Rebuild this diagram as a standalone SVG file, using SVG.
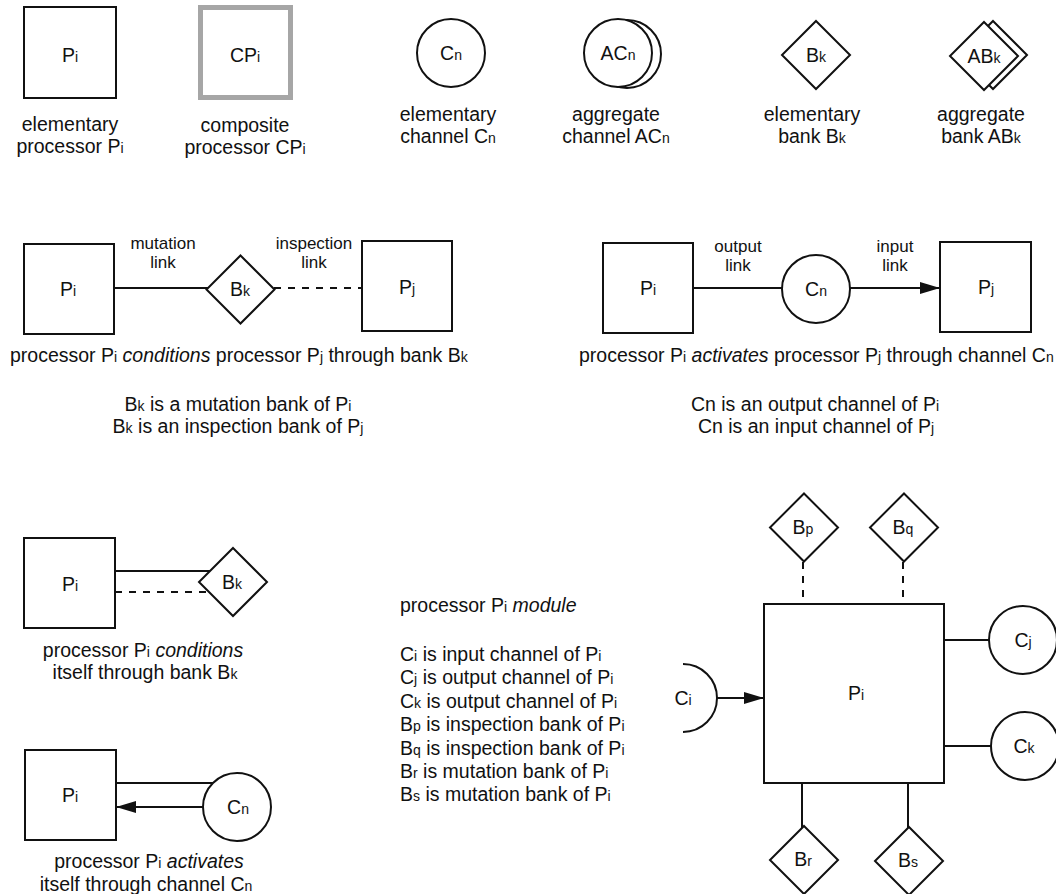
<svg xmlns="http://www.w3.org/2000/svg" width="1056" height="894" viewBox="0 0 1056 894">
  <style>
    text { font-family: "Liberation Sans", Arial, sans-serif; fill: #111; }
    .cap { font-size: 19.5px; text-anchor: middle; }
    .capL { font-size: 19.5px; }
    .lnk { font-size: 17px; text-anchor: middle; }
    .lbl { font-size: 19.5px; text-anchor: middle; }
    .s { font-size: 72%; }
    .it { font-style: italic; }
    .box { fill: #fff; stroke: #111; stroke-width: 2; }
    .comp { fill: #fff; stroke: #a6a6a6; stroke-width: 5; }
    .line { fill: none; stroke: #111; stroke-width: 2; }
    .dash { fill: none; stroke: #111; stroke-width: 2; stroke-dasharray: 7 7; }
  </style>
  <defs>
    <marker id="arrow" markerUnits="userSpaceOnUse" markerWidth="20" markerHeight="12" refX="20" refY="6" orient="auto">
      <path d="M0,0 L20,6 L0,12 z" fill="#111"/>
    </marker>
  </defs>

  <!-- connectors -->
  <g id="connectors">
    <!-- conditions: Pi -> Bk -> Pj -->
    <line class="line" x1="114" y1="288" x2="240" y2="288"/>
    <line class="dash" x1="274" y1="288" x2="362" y2="288"/>
    <!-- activates: Pi -> Cn -> Pj -->
    <line class="line" x1="693" y1="288" x2="816" y2="288"/>
    <line class="line" x1="850" y1="288" x2="940" y2="288" marker-end="url(#arrow)"/>
    <!-- self conditioning -->
    <line class="line" x1="115" y1="571" x2="233" y2="571"/>
    <line class="dash" x1="115" y1="592" x2="209" y2="592"/>
    <!-- self activation -->
    <line class="line" x1="116" y1="783" x2="237" y2="783"/>
    <line class="line" x1="203" y1="807" x2="116" y2="807" marker-end="url(#arrow)"/>
    <!-- module -->
    <line class="dash" x1="803" y1="562" x2="803" y2="604"/>
    <line class="dash" x1="903" y1="562" x2="903" y2="604"/>
    <line class="line" x1="944" y1="640" x2="1023" y2="640"/>
    <line class="line" x1="944" y1="746" x2="1025" y2="746"/>
    <line class="line" x1="717" y1="698" x2="764" y2="698" marker-end="url(#arrow)"/>
    <line class="line" x1="802" y1="783" x2="802" y2="860"/>
    <line class="line" x1="908" y1="783" x2="908" y2="861"/>
  </g>

  <!-- legend row -->
  <g id="legend-processor">
    <rect class="box" x="24" y="7" width="92" height="91"/>
    <text class="lbl" x="70" y="62">P<tspan class="s">i</tspan></text>
    <text class="cap" x="70" y="131">elementary</text>
    <text class="cap" x="70" y="153">processor P<tspan class="s">i</tspan></text>
  </g>
  <g id="legend-composite">
    <rect class="comp" x="200.5" y="7.5" width="90" height="90"/>
    <text class="lbl" x="245" y="62">CP<tspan class="s">i</tspan></text>
    <text class="cap" x="245" y="132">composite</text>
    <text class="cap" x="245" y="154">processor CP<tspan class="s">i</tspan></text>
  </g>
  <g id="legend-channel">
    <circle class="box" cx="451" cy="53" r="34"/>
    <text class="lbl" x="451" y="60">C<tspan class="s">n</tspan></text>
    <text class="cap" x="448" y="121">elementary</text>
    <text class="cap" x="448" y="143">channel C<tspan class="s">n</tspan></text>
  </g>
  <g id="legend-aggregate-channel">
    <circle class="box" cx="627" cy="54" r="34"/>
    <circle class="box" cx="618" cy="53" r="34"/>
    <text class="lbl" x="618" y="60">AC<tspan class="s">n</tspan></text>
    <text class="cap" x="616" y="121">aggregate</text>
    <text class="cap" x="616" y="143">channel AC<tspan class="s">n</tspan></text>
  </g>
  <g id="legend-bank">
    <polygon class="box" points="816,21 850,55 816,89 782,55"/>
    <text class="lbl" x="816" y="62">B<tspan class="s">k</tspan></text>
    <text class="cap" x="812" y="121">elementary</text>
    <text class="cap" x="812" y="143">bank B<tspan class="s">k</tspan></text>
  </g>
  <g id="legend-aggregate-bank">
    <polygon class="box" points="993,21 1027,55 993,89 959,55"/>
    <polygon class="box" points="984,22 1018,56 984,90 950,56"/>
    <text class="lbl" x="984" y="63">AB<tspan class="s">k</tspan></text>
    <text class="cap" x="981" y="121">aggregate</text>
    <text class="cap" x="981" y="143">bank AB<tspan class="s">k</tspan></text>
  </g>

  <!-- processor conditions processor -->
  <g id="cond-pi">
    <rect class="box" x="24" y="244" width="90" height="90"/>
    <text class="lbl" x="68" y="296">P<tspan class="s">i</tspan></text>
  </g>
  <g id="cond-bk">
    <polygon class="box" points="240.5,255.5 274.5,289.5 240.5,323.5 206.5,289.5"/>
    <text class="lbl" x="240" y="296">B<tspan class="s">k</tspan></text>
  </g>
  <g id="cond-pj">
    <rect class="box" x="362" y="241" width="90" height="90"/>
    <text class="lbl" x="407" y="294">P<tspan class="s">j</tspan></text>
  </g>
  <g id="cond-text">
    <text class="lnk" x="163" y="249">mutation</text>
    <text class="lnk" x="163" y="268">link</text>
    <text class="lnk" x="314" y="249">inspection</text>
    <text class="lnk" x="314" y="268">link</text>
    <text class="capL" x="10" y="362">processor P<tspan class="s">i</tspan> <tspan class="it">conditions</tspan> processor P<tspan class="s">j</tspan> through bank B<tspan class="s">k</tspan></text>
    <text class="cap" x="238" y="411">B<tspan class="s">k</tspan> is a mutation bank of P<tspan class="s">i</tspan></text>
    <text class="cap" x="238" y="433">B<tspan class="s">k</tspan> is an inspection bank of P<tspan class="s">j</tspan></text>
  </g>

  <!-- processor activates processor -->
  <g id="act-pi">
    <rect class="box" x="603" y="243" width="90" height="90"/>
    <text class="lbl" x="648" y="295">P<tspan class="s">i</tspan></text>
  </g>
  <g id="act-cn">
    <circle class="box" cx="816" cy="289" r="34"/>
    <text class="lbl" x="816" y="296">C<tspan class="s">n</tspan></text>
  </g>
  <g id="act-pj">
    <rect class="box" x="940" y="242" width="91" height="90"/>
    <text class="lbl" x="986" y="294">P<tspan class="s">j</tspan></text>
  </g>
  <g id="act-text">
    <text class="lnk" x="738" y="252">output</text>
    <text class="lnk" x="738" y="271">link</text>
    <text class="lnk" x="895" y="252">input</text>
    <text class="lnk" x="895" y="271">link</text>
    <text class="capL" x="579" y="362">processor P<tspan class="s">i</tspan> <tspan class="it">activates</tspan> processor P<tspan class="s">j</tspan> through channel C<tspan class="s">n</tspan></text>
    <text class="cap" x="815" y="411">Cn is an output channel of P<tspan class="s">i</tspan></text>
    <text class="cap" x="816" y="433">Cn is an input channel of P<tspan class="s">j</tspan></text>
  </g>

  <!-- processor conditions itself -->
  <g id="self-cond-pi">
    <rect class="box" x="24" y="538" width="91" height="90"/>
    <text class="lbl" x="70" y="591">P<tspan class="s">i</tspan></text>
  </g>
  <g id="self-cond-bk">
    <polygon class="box" points="233,548 267,582 233,616 199,582"/>
    <text class="lbl" x="232" y="589">B<tspan class="s">k</tspan></text>
  </g>
  <g id="self-cond-text">
    <text class="cap" x="143" y="657">processor P<tspan class="s">i</tspan> <tspan class="it">conditions</tspan></text>
    <text class="cap" x="145" y="679">itself through bank B<tspan class="s">k</tspan></text>
  </g>

  <!-- processor activates itself -->
  <g id="self-act-pi">
    <rect class="box" x="25" y="750" width="91" height="90"/>
    <text class="lbl" x="70" y="802">P<tspan class="s">i</tspan></text>
  </g>
  <g id="self-act-cn">
    <circle class="box" cx="237" cy="807" r="34"/>
    <text class="lbl" x="238" y="814">C<tspan class="s">n</tspan></text>
  </g>
  <g id="self-act-text">
    <text class="cap" x="149" y="868">processor P<tspan class="s">i</tspan> <tspan class="it">activates</tspan></text>
    <text class="cap" x="146" y="891">itself through channel C<tspan class="s">n</tspan></text>
  </g>

  <!-- module description -->
  <g id="module-text">
    <text class="capL" x="400" y="612">processor P<tspan class="s">i</tspan> <tspan class="it">module</tspan></text>
    <text class="capL" x="400" y="661">C<tspan class="s">i</tspan> is input channel of P<tspan class="s">i</tspan></text>
    <text class="capL" x="400" y="684">C<tspan class="s">j</tspan> is output channel of P<tspan class="s">i</tspan></text>
    <text class="capL" x="400" y="708">C<tspan class="s">k</tspan> is output channel of P<tspan class="s">i</tspan></text>
    <text class="capL" x="400" y="731">B<tspan class="s">p</tspan> is inspection bank of P<tspan class="s">i</tspan></text>
    <text class="capL" x="400" y="755">B<tspan class="s">q</tspan> is inspection bank of P<tspan class="s">i</tspan></text>
    <text class="capL" x="400" y="778">B<tspan class="s">r</tspan> is mutation bank of P<tspan class="s">i</tspan></text>
    <text class="capL" x="400" y="801">B<tspan class="s">s</tspan> is mutation bank of P<tspan class="s">i</tspan></text>
  </g>

  <!-- module diagram -->
  <g id="mod-pi">
    <rect class="box" x="764" y="604" width="180" height="179"/>
    <text class="lbl" x="856" y="700">P<tspan class="s">i</tspan></text>
  </g>
  <g id="mod-bp">
    <polygon class="box" points="804,493.5 838,527.5 804,561.5 770,527.5"/>
    <text class="lbl" x="803" y="534">B<tspan class="s">p</tspan></text>
  </g>
  <g id="mod-bq">
    <polygon class="box" points="904,493.5 938,527.5 904,561.5 870,527.5"/>
    <text class="lbl" x="903" y="534">B<tspan class="s">q</tspan></text>
  </g>
  <g id="mod-cj">
    <circle class="box" cx="1023" cy="640" r="34"/>
    <text class="lbl" x="1023" y="647">C<tspan class="s">j</tspan></text>
  </g>
  <g id="mod-ck">
    <circle class="box" cx="1025" cy="746" r="34"/>
    <text class="lbl" x="1024" y="753">C<tspan class="s">k</tspan></text>
  </g>
  <g id="mod-ci">
    <path class="line" d="M683,664 A34,34 0 0 1 683,732"/>
    <text class="lbl" x="683" y="705">C<tspan class="s">i</tspan></text>
  </g>
  <g id="mod-br">
    <polygon class="box" points="804,826 838,860 804,894 770,860"/>
    <text class="lbl" x="803" y="866">B<tspan class="s">r</tspan></text>
  </g>
  <g id="mod-bs">
    <polygon class="box" points="909,827 943,861 909,895 875,861"/>
    <text class="lbl" x="908" y="867">B<tspan class="s">s</tspan></text>
  </g>
</svg>
